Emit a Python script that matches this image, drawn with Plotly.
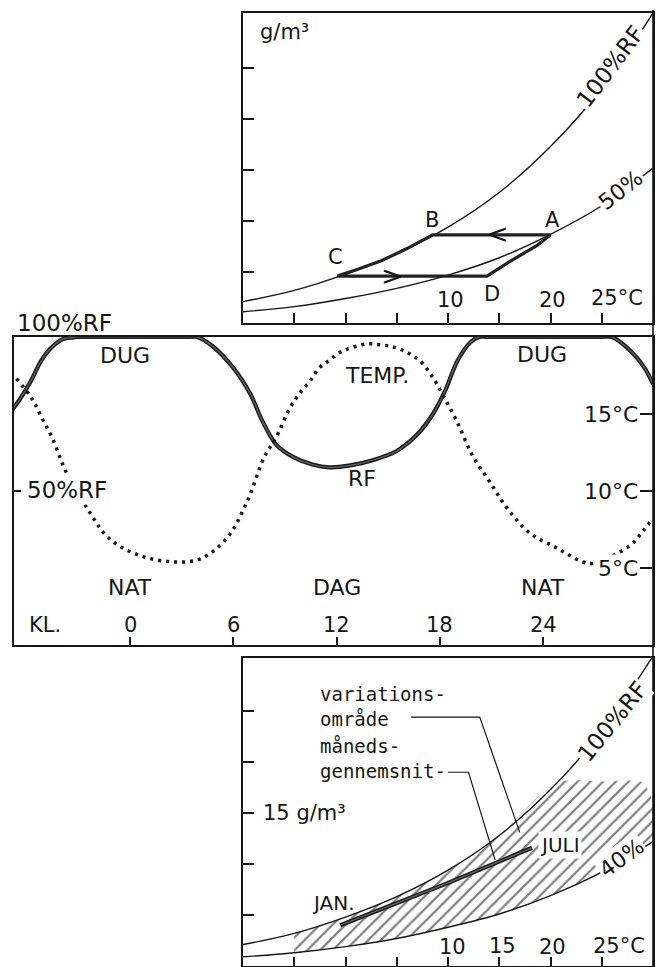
import plotly.graph_objects as go

W, H = 662, 967


def px(x):
    return x / W


def py(y):
    return 1 - y / H


# ---------------- data ----------------
# psychrometric panels (top and bottom): temperature (°C) vs absolute humidity (g/m³)
temp_grid = [-10, -5, 0, 5, 10, 15, 20, 25, 30]
ah_rf100 = [2.1, 3.2, 4.8, 6.8, 9.4, 12.8, 17.3, 23.0, 30.4]
ah_rf50 = [1.1, 1.6, 2.4, 3.4, 4.7, 6.4, 8.7, 11.5, 15.2]
ah_rf40 = [0.9, 1.3, 1.9, 2.7, 3.8, 5.1, 6.9, 9.2, 12.2]

# day/night cycle A -> B -> C -> D -> A
cycle_temp = [20.0, 8.5, 6.0, 3.5, 1.0, -0.8, 13.8, 16.3, 18.7, 20.0]
cycle_ah = [8.65, 8.65, 7.3, 6.1, 5.2, 4.6, 4.6, 6.2, 7.6, 8.65]
point_names = ["A", "B", "C", "D"]
point_temp = [20.0, 8.5, -0.8, 13.8]
point_ah = [8.65, 8.65, 4.6, 4.6]
arrow_syms = ["<", ">"]
arrow_temp = [14.8, 4.6]
arrow_ah = [8.65, 4.6]

# middle panel: hour of day
temp_hours = [-6.6, -5.7, -5.1, -4.5, -3.7, -2.5, -1.2, 0.6, 2.5, 4.1, 5.6, 6.8, 7.8,
              8.5, 9.3, 9.9, 10.5, 11.0, 11.6, 12.2, 13.0, 13.8, 14.5, 15.3, 16.1,
              16.9, 17.4, 17.8, 18.2, 19.0, 19.9, 20.9, 21.9, 23.2, 24.8, 26.3, 26.9,
              29.1, 29.8, 30.3]
temp_values = [17.3, 16.0, 14.7, 13.4, 11.2, 8.9, 6.9, 5.8, 5.4, 5.6, 6.9, 9.3, 12.2,
               13.5, 15.4, 16.4, 17.2, 18.0, 18.5, 19.0, 19.35, 19.55, 19.5, 19.35, 19.0,
               18.4, 17.7, 17.0, 16.2, 14.5, 12.3, 10.6, 8.9, 7.3, 6.3, 5.4, 5.3,
               6.5, 7.4, 8.1]
rf_hours = [-6.9, -6.4, -5.8, -5.2, -4.65, -3.9, -3.1, -2.4, 3.2, 3.9, 4.8, 6.0, 7.0,
            7.7, 8.5, 9.5, 10.6, 11.6, 12.8, 14.1, 15.5, 16.7, 17.6, 18.3, 19.0,
            19.8, 20.3, 21.0, 27.3, 28.0, 29.1, 29.9, 30.4]
rf_values = [75.9, 79.8, 85.3, 91.9, 96.1, 99.3, 100, 100, 100, 100, 97, 90, 81.4,
             72.6, 65, 61, 58.6, 57.7, 58.3, 60, 63, 68.4, 75, 82.4, 92,
             98.4, 100, 100, 100, 100, 95.4, 90, 84.7]
hour_ticks = [0, 6, 12, 18, 24]
hour_labels = ["0", "6", "12", "18", "24"]
period_names = ["NAT", "DAG", "NAT"]
period_hours = [0, 12, 24]
temp_ticks = [5, 10, 15]

# bottom panel: range of variation and monthly means
hatch_upper_temp = [-5, 0, 5, 10, 15, 20.6, 25, 29, 30]
hatch_upper_ah = [3.2, 4.8, 6.8, 9.4, 12.8, 18.0, 18.1, 18.0, 16.0]
hatch_lower_temp = temp_grid[1:]
hatch_lower_ah = ah_rf40[1:]
mean_temp = [-0.5, 9.9, 18.2]
mean_ah = [4.0, 8.1, 11.6]
ah_ticks = [5, 10, 15, 20, 25]
temp_axis_ticks = [-5, 0, 5, 10, 15, 20, 25]

# ---------------- figure ----------------
FONT = "DejaVu Sans"
MONO = "DejaVu Sans Mono"
INK = "#151515"
fig = go.Figure()

# bottom panel: hatched range
fig.add_trace(go.Scatter(x=hatch_lower_temp, y=hatch_lower_ah, xaxis="x3", yaxis="y4",
                         mode="lines", line=dict(width=0, shape="spline"),
                         hoverinfo="skip"))
fig.add_trace(go.Scatter(x=hatch_upper_temp, y=hatch_upper_ah, xaxis="x3", yaxis="y4",
                         mode="lines", line=dict(width=0, shape="spline", smoothing=0.7),
                         fill="tonexty", fillcolor="rgba(255,255,255,0)",
                         fillpattern=dict(shape="/", fgcolor="#000", bgcolor="rgba(255,255,255,0)",
                                          size=9, solidity=0.25),
                         hoverinfo="skip"))
for ys in (ah_rf100, ah_rf40):
    fig.add_trace(go.Scatter(x=temp_grid, y=ys, xaxis="x3", yaxis="y4", mode="lines",
                             line=dict(color=INK, width=1.4, shape="spline")))
fig.add_trace(go.Scatter(x=mean_temp, y=mean_ah, xaxis="x3", yaxis="y4", mode="lines",
                         line=dict(color="#1a1a1a", width=4.2)))
fig.add_trace(go.Scatter(x=mean_temp, y=mean_ah, xaxis="x3", yaxis="y4", mode="lines",
                         line=dict(color="#6a6a6a", width=1.2)))

# top panel
for ys in (ah_rf100, ah_rf50):
    fig.add_trace(go.Scatter(x=temp_grid, y=ys, xaxis="x", yaxis="y", mode="lines",
                             line=dict(color=INK, width=1.4, shape="spline")))
fig.add_trace(go.Scatter(x=cycle_temp, y=cycle_ah, xaxis="x", yaxis="y", mode="lines",
                         line=dict(color="#222", width=3.2)))

# middle panel
fig.add_trace(go.Scatter(x=temp_hours, y=temp_values, xaxis="x2", yaxis="y3", mode="lines",
                         line=dict(color=INK, width=3.5, dash="3px,5px", shape="spline")))
fig.add_trace(go.Scatter(x=rf_hours, y=rf_values, xaxis="x2", yaxis="y2", mode="lines",
                         line=dict(color="#1a1a1a", width=4.2, shape="spline", smoothing=0.8)))
fig.add_trace(go.Scatter(x=rf_hours, y=rf_values, xaxis="x2", yaxis="y2", mode="lines",
                         line=dict(color="#6a6a6a", width=1.2, shape="spline", smoothing=0.8)))

axis_common = dict(showgrid=False, zeroline=False, showline=True, linecolor=INK,
                   linewidth=1.6, mirror=True, ticks="inside", tickcolor=INK,
                   tickwidth=1.5, showticklabels=False, fixedrange=True)

hour_px = 17.21
x2_lo = (14 - 130) / hour_px
x2_hi = (653 - 130) / hour_px

fig.update_layout(
    width=W, height=H, margin=dict(l=0, r=0, t=0, b=0),
    paper_bgcolor="white", plot_bgcolor="white", showlegend=False,
    font=dict(family=FONT, color=INK),
    xaxis=dict(domain=[px(243), px(653)], range=[-10, 30], anchor="y",
               tickvals=temp_axis_ticks, ticklen=10, **axis_common),
    yaxis=dict(domain=[py(323), py(13)], range=[0, 30.4], anchor="x",
               tickvals=ah_ticks, ticklen=11, **axis_common),
    xaxis2=dict(domain=[px(14), px(653)], range=[x2_lo, x2_hi], anchor="y2",
                tickvals=hour_ticks, ticklen=8, **axis_common),
    yaxis2=dict(domain=[py(645), py(337)], range=[0, 100], anchor="x2",
                tickvals=[50], ticklen=7, **axis_common),
    yaxis3=dict(overlaying="y2", side="right", range=[0, 20], anchor="x2",
                showgrid=False, zeroline=False, showline=False, ticks="inside",
                tickvals=temp_ticks, ticklen=13, tickcolor=INK, tickwidth=1.5,
                showticklabels=False, fixedrange=True),
    xaxis3=dict(domain=[px(243), px(653)], range=[-10, 30], anchor="y4",
                tickvals=temp_axis_ticks, ticklen=9, **axis_common),
    yaxis4=dict(domain=[py(966), py(658)], range=[0, 30.2], anchor="x3",
                tickvals=ah_ticks, ticklen=11, **axis_common),
)

# continuous right frame line
fig.add_shape(type="line", xref="paper", yref="paper", x0=px(653), x1=px(653),
              y0=py(10), y1=py(967), line=dict(color=INK, width=1.6))

# leader lines in the bottom panel
fig.add_shape(type="path", xref="x3", yref="y4",
              path="M 6.4,24.4 L 13.1,24.4 L 17.0,13.1",
              line=dict(color=INK, width=1.2))
fig.add_shape(type="path", xref="x3", yref="y4",
              path="M 10.0,19.0 L 12.0,19.0 L 14.6,10.4",
              line=dict(color=INK, width=1.2))

ann = []


def label(text, x, y, size=19, xanchor="center", angle=0, bg=None, xref="paper",
          yref="paper", xshift=0, yshift=0, family=FONT):
    d = dict(text=text, x=x, y=y, xref=xref, yref=yref, showarrow=False,
             xanchor=xanchor, yanchor="middle", textangle=angle, align="left",
             font=dict(family=family, size=size, color=INK), xshift=xshift, yshift=yshift)
    if bg:
        d["bgcolor"] = bg
        d["borderpad"] = 1
    ann.append(d)


# top panel labels
label("g/m³", px(284), py(32), size=21)
label("100%RF", px(610), py(67), size=23, angle=-53, bg="white")
label("50%", px(620), py(190), size=22, angle=-38, bg="white")
label_offsets = [(2, 15), (-1, 15), (-2, 19), (5, -18)]
for name, t, a, (dx, dy) in zip(point_names, point_temp, point_ah, label_offsets):
    label(name, t, a, size=21, xref="x", yref="y", xshift=dx, yshift=dy)
for s, t, a in zip(arrow_syms, arrow_temp, arrow_ah):
    label(s, t, a, size=27, xref="x", yref="y", yshift=1)
label("10", px(450), py(300), size=21)
label("20", px(552), py(300), size=21)
label("25°C", px(617), py(298), size=21)

# middle panel labels
label("100%RF", px(15), py(323), size=23, xanchor="left")
label("DUG", px(125), py(355), size=22)
label("DUG", px(542), py(354), size=22)
label("TEMP.", px(377), py(375), size=22)
label("RF", px(362), py(478), size=22)
label("50%RF", px(25), py(490), size=23, xanchor="left", bg="white")
for t in temp_ticks:
    label(f"{t}°C", px(640), t, size=22, xanchor="right", yref="y3",
          bg="white" if t == 5 else None)
for name, h in zip(period_names, period_hours):
    label(name, h, py(587), size=22, xref="x2")
label("KL.", px(27), py(625), size=21, xanchor="left")
for h, s in zip(hour_ticks, hour_labels):
    label(s, h, py(625), size=21, xref="x2")

# bottom panel labels
label("variations-<br>område", px(318), py(706), size=19, xanchor="left", family=MONO)
label("måneds-<br>gennemsnit-", px(318), py(758), size=19, xanchor="left", family=MONO)
label("15 g/m³", px(261), py(813), size=21, xanchor="left")
label("100%RF", px(612), py(722), size=23, angle=-51, bg="white")
label("JULI", px(538), py(845), size=20, xanchor="left", bg="white")
label("40%", px(621), py(858), size=22, angle=-36, bg="white")
label("JAN.", px(333), py(903), size=20)
label("10", px(452), py(947), size=21)
label("15", px(503), py(946), size=21)
label("20", px(552), py(947), size=21)
label("25°C", px(619), py(946), size=21)

fig.update_layout(annotations=ann)
fig.write_html("out.html", config={"displayModeBar": False},
               post_script="document.body.style.margin='0';document.body.style.overflow='hidden';")
